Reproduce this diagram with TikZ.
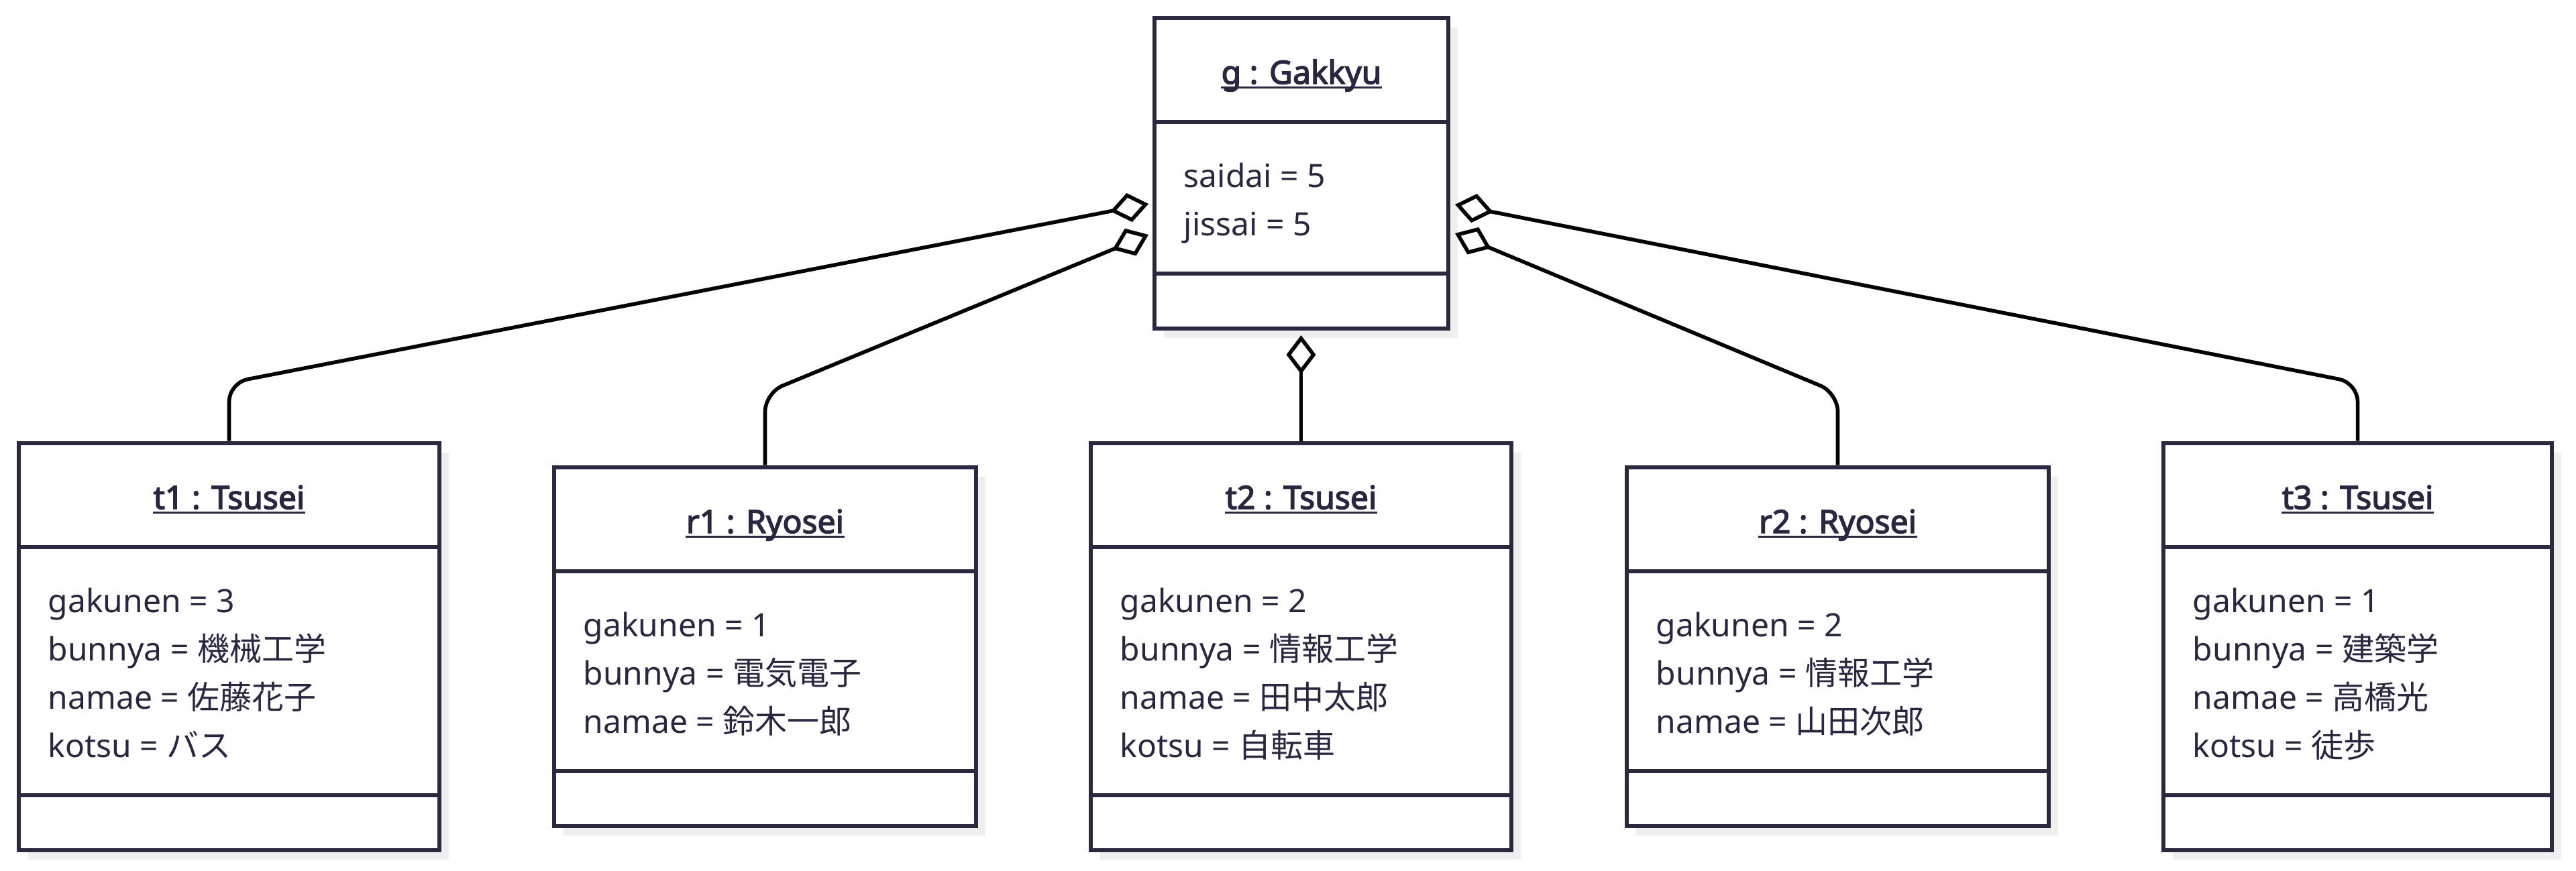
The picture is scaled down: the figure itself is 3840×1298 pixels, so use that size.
\documentclass[tikz,border=0pt]{standalone}
\usepackage{fontspec}
\setmainfont{Noto Sans}[AutoFakeBold=3]
\newfontfamily\cjk{Noto Sans CJK JP}
\usetikzlibrary{arrows.meta,fit}
\definecolor{umlline}{HTML}{2A2940}
\definecolor{umltext}{HTML}{28273F}
\definecolor{umlshadow}{HTML}{EFEFEF}

\newcommand\objbox[7]{%
  \pgfmathsetmacro\objbot{#4+252+72*(#5-1)+139}%
  \pgfmathsetmacro\objhd{#4+155}%
  \pgfmathsetmacro\objad{#4+252+72*(#5-1)+57}%
  \pgfmathsetmacro\objcx{(#2+#3)/2}%
  \fill[umlshadow] (#2+14,#4+14) rectangle (#3+14,\objbot+14);
  \node[objframe, fit={(#2,#4) (#3,\objbot)}] (#1) {};
  \draw[divider] (#2,\objhd) -- (#3,\objhd);
  \draw[divider] (#2,\objad) -- (#3,\objad);
  \node[objtitle] (#1-title) at (\objcx,#4+98) {#6};
  \draw[uline] ([yshift=-1.3pt]#1-title.base west) -- ([yshift=-1.3pt]#1-title.base east);
  \foreach \attrline [count=\i from 0] in {#7} {
    \node[objattr] (#1-a\i) at (#2+43,#4+252+72*\i) {\attrline};
  }
}

\begin{document}
\begin{tikzpicture}[x=0.25pt,y=-0.25pt,
  objframe/.style={draw=umlline, line width=1.65pt, inner sep=0pt, fill=white},
  divider/.style={draw=umlline, line width=1.65pt},
  objtitle/.style={anchor=base, inner sep=0pt, text=umltext, font=\fontsize{12pt}{14.4pt}\selectfont\bfseries},
  objattr/.style={anchor=base west, inner sep=0pt, text=umltext, font=\fontsize{12pt}{14.4pt}\selectfont},
  uline/.style={draw=umltext, line width=0.75pt},
  conn/.style={draw=black, line width=1.4pt, rounded corners=7pt,
    -{Diamond[fill=white, length=14.5pt, width=11pt, sharp]}}
]
\fill[white] (0,0) rectangle (3840,1298);
\useasboundingbox (0,0) rectangle (3840,1298);

\objbox{g}{1721}{2159}{27}{2}{g : Gakkyu}{saidai = 5, jissai = 5}
\objbox{t1}{28}{655}{661}{4}{t1 : Tsusei}{gakunen = 3, bunnya = {\cjk 機械工学}, namae = {\cjk 佐藤花子}, kotsu = {\cjk バス}}
\objbox{r1}{826}{1455}{697}{3}{r1 : Ryosei}{gakunen = 1, bunnya = {\cjk 電気電子}, namae = {\cjk 鈴木一郎}}
\objbox{t2}{1626}{2253}{661}{4}{t2 : Tsusei}{gakunen = 2, bunnya = {\cjk 情報工学}, namae = {\cjk 田中太郎}, kotsu = {\cjk 自転車}}
\objbox{r2}{2425}{3054}{697}{3}{r2 : Ryosei}{gakunen = 2, bunnya = {\cjk 情報工学}, namae = {\cjk 山田次郎}}
\objbox{t3}{3225}{3804}{661}{4}{t3 : Tsusei}{gakunen = 1, bunnya = {\cjk 建築学}, namae = {\cjk 高橋光}, kotsu = {\cjk 徒歩}}

% diamond tips near the class box g
\coordinate (gL1) at (1712,304);
\coordinate (gL2) at (1712,350);
\coordinate (gR1) at (2169,305);
\coordinate (gR2) at (2169,348);
\coordinate (gB) at (1940,500);
% bend heights
\coordinate (kT) at (0,571);
\coordinate (kR) at (0,586);

\draw[conn] (t1.north) -- (t1.north |- kT) -- (gL1);
\draw[conn] (r1.north) -- (r1.north |- kR) -- (gL2);
\draw[conn] (t2.north) -- (t2.north |- gB);
\draw[conn] (r2.north) -- (r2.north |- kR) -- (gR2);
\draw[conn] (t3.north) -- (t3.north |- kT) -- (gR1);
\end{tikzpicture}
\end{document}
